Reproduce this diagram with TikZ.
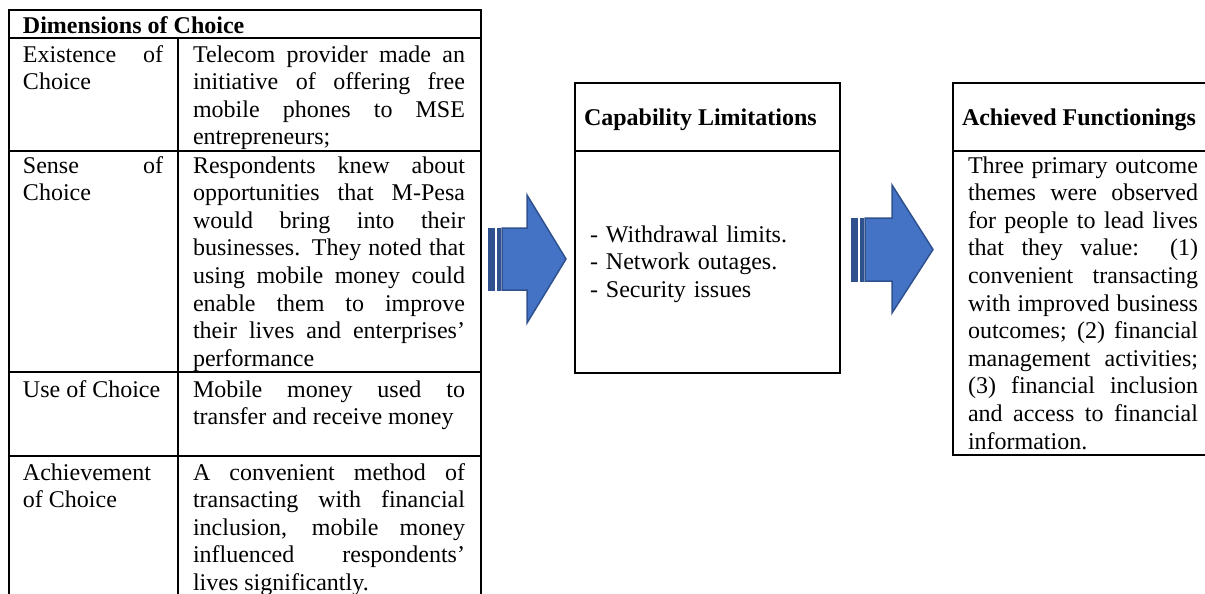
\documentclass[tikz,border=0pt]{standalone}
\usepackage{fontspec}
\setmainfont{Liberation Serif}
\definecolor{arrowfill}{HTML}{4472C4}
\definecolor{arrowline}{HTML}{2F528F}
\tolerance=10000
\hbadness=10000
\hyphenpenalty=10000
\exhyphenpenalty=10000
\begin{document}
\begin{tikzpicture}[x=0.5pt,y=-0.5pt,
  rule/.style={line width=1pt, black},
  cell/.style={anchor=base west, inner sep=0pt, outer sep=0pt, align=justify,
    font=\fontsize{12pt}{13.8pt}\selectfont},
  plain/.style={anchor=base west, inner sep=0pt, outer sep=0pt, align=left,
    font=\fontsize{12pt}{13.8pt}\selectfont},
  headtext/.style={anchor=base west, inner sep=0pt, outer sep=0pt,
    font=\fontsize{12pt}{13.8pt}\selectfont\bfseries},
  blockarrow/.style={fill=arrowfill, draw=arrowline, line width=0.75pt, line join=miter},
  stripe/.style={fill=arrowline, draw=arrowline, line width=0.5pt}]
\useasboundingbox (0,0) rectangle (1205,594);

% ---- table: Dimensions of Choice ----
\draw[rule] (9,610) -- (9,10) -- (481,10) -- (481,610);
\draw[rule] (9,38) -- (481,38);
\draw[rule] (9,151) -- (481,151);
\draw[rule] (9,372) -- (481,372);
\draw[rule] (9,456) -- (481,456);
\draw[rule] (178,38) -- (178,610);

\node[headtext] (dimhead) at (23,33) {Dimensions of Choice};

\node[cell, text width=70pt] (exlab) at (23,62) {Existence of\linebreak Choice};
\node[cell, text width=136pt] (extext) at (193,62) {Telecom provider made an\linebreak initiative of offering free\linebreak mobile phones to MSE\linebreak entrepreneurs;};

\node[cell, text width=70pt] (selab) at (23,173) {Sense of\linebreak Choice};
\node[cell, text width=136pt] (setext) at (193,173) {Respondents knew about\linebreak opportunities that M-Pesa\linebreak would bring into their\linebreak businesses. They noted that\linebreak using mobile money could\linebreak enable them to improve\linebreak their lives and enterprises’\linebreak performance};

\node[cell, text width=70pt] (uselab) at (23,397) {Use of Choice};
\node[cell, text width=136pt] (usetext) at (193,397) {Mobile money used to\linebreak transfer and receive money};

\node[cell, text width=70pt] (aclab) at (23,480) {Achievement\linebreak of Choice};
\node[cell, text width=136pt] (actext) at (193,480) {A convenient method of\linebreak transacting with financial\linebreak inclusion, mobile money\linebreak influenced respondents’\linebreak lives significantly.};

% ---- middle box: Capability Limitations ----
\draw[rule] (575,83) rectangle (840,373);
\draw[rule] (575,151) -- (840,151);
\node[headtext] (caphead) at (584,125) {Capability Limitations};
\node[plain, text width=120pt] (captext) at (590,242) {- Withdrawal limits.\\- Network outages.\\- Security issues};

% ---- right box: Achieved Functionings ----
\draw[rule] (1215,83) -- (953,83) -- (953,455) -- (1215,455);
\draw[rule] (953,151) -- (1215,151);
\node[headtext] (achead) at (962,125) {Achieved Functionings};
\node[cell, text width=115pt] (actextr) at (968,173) {Three primary outcome\linebreak themes were observed\linebreak for people to lead lives\linebreak that they value: (1)\linebreak convenient transacting\linebreak with improved business\linebreak outcomes; (2) financial\linebreak management activities;\linebreak (3) financial inclusion\linebreak and access to financial\linebreak information.};

% ---- striped block arrows ----
\draw[stripe] (488,228) rectangle (494,290);
\draw[stripe] (497,228) rectangle (500,290);
\draw[blockarrow] (502,228) -- (527,228) -- (527,195) -- (566,259) -- (527,323) -- (527,290) -- (502,290) -- cycle;

\draw[stripe] (851,218) rectangle (857,281);
\draw[stripe] (860,218) rectangle (863,281);
\draw[blockarrow] (865,218) -- (892,218) -- (892,185) -- (933,249.5) -- (892,313) -- (892,281) -- (865,281) -- cycle;
\end{tikzpicture}
\end{document}
